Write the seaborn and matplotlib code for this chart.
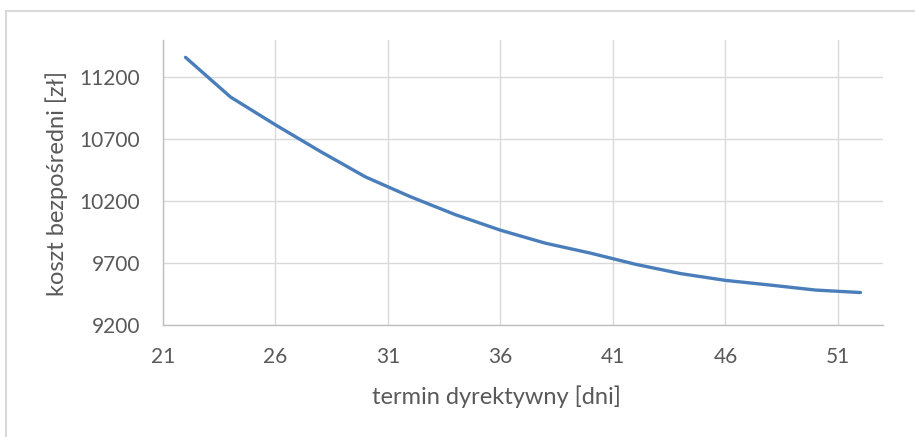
import numpy as np
import pandas as pd
import seaborn as sns
import matplotlib
matplotlib.use("Agg")
import matplotlib.pyplot as plt
from matplotlib.patches import Rectangle

# data
days = [22, 24, 26, 28, 30, 32, 34, 36, 38, 40, 42, 44, 46, 48, 50, 52]
cost = [11360, 11040, 10815, 10600, 10395, 10235, 10090, 9965, 9860, 9780,
        9690, 9615, 9560, 9522, 9482, 9462]
x_ticks = [21, 26, 31, 36, 41, 46, 51]
y_ticks = [9200, 9700, 10200, 10700, 11200]
x_label = "termin dyrektywny [dni]"
y_label = "koszt bezpośredni [zł]"

sns.set_theme(style="white")
plt.rcParams['font.family'] = ['Lato', 'DejaVu Sans']

df = pd.DataFrame({"days": days, "cost": cost})

W, H = 915, 437
fig = plt.figure(figsize=(W / 100, H / 100), dpi=100)
ax = fig.add_axes([163 / W, 1 - 325 / H, (883 - 163) / W, (325 - 40) / H])

sns.lineplot(data=df, x="days", y="cost", ax=ax, color="#4a7ebb", linewidth=2.4)

ax.set_xlim(21, 53)
ax.set_ylim(9200, 11500)
ax.set_xticks(x_ticks)
ax.set_yticks(y_ticks)
ax.grid(True, color="#d9d9d9", linewidth=1.0)
ax.set_axisbelow(True)
for s in ["top", "right"]:
    ax.spines[s].set_visible(False)
for s in ["left", "bottom"]:
    ax.spines[s].set_color("#bfbfbf")
    ax.spines[s].set_linewidth(1.0)
ax.tick_params(axis="both", length=0, labelsize=15, labelcolor="#595959")
ax.tick_params(axis="y", pad=16.5)
ax.tick_params(axis="x", pad=16)
ax.set_xlabel(x_label, fontsize=17, color="#595959", va="center")
ax.set_ylabel(y_label, fontsize=17, color="#595959", va="center")
ax.xaxis.set_label_coords(0.463, -0.2526)
ax.yaxis.set_label_coords(-0.147, 0.498)

fig.patches.append(Rectangle((6 / W, -10 / H), (W + 10) / W, (H - 1) / H,
                             transform=fig.transFigure, fill=False,
                             edgecolor="#d9d9d9", linewidth=1.5))

fig.savefig("out.png", dpi=100, facecolor="white")
